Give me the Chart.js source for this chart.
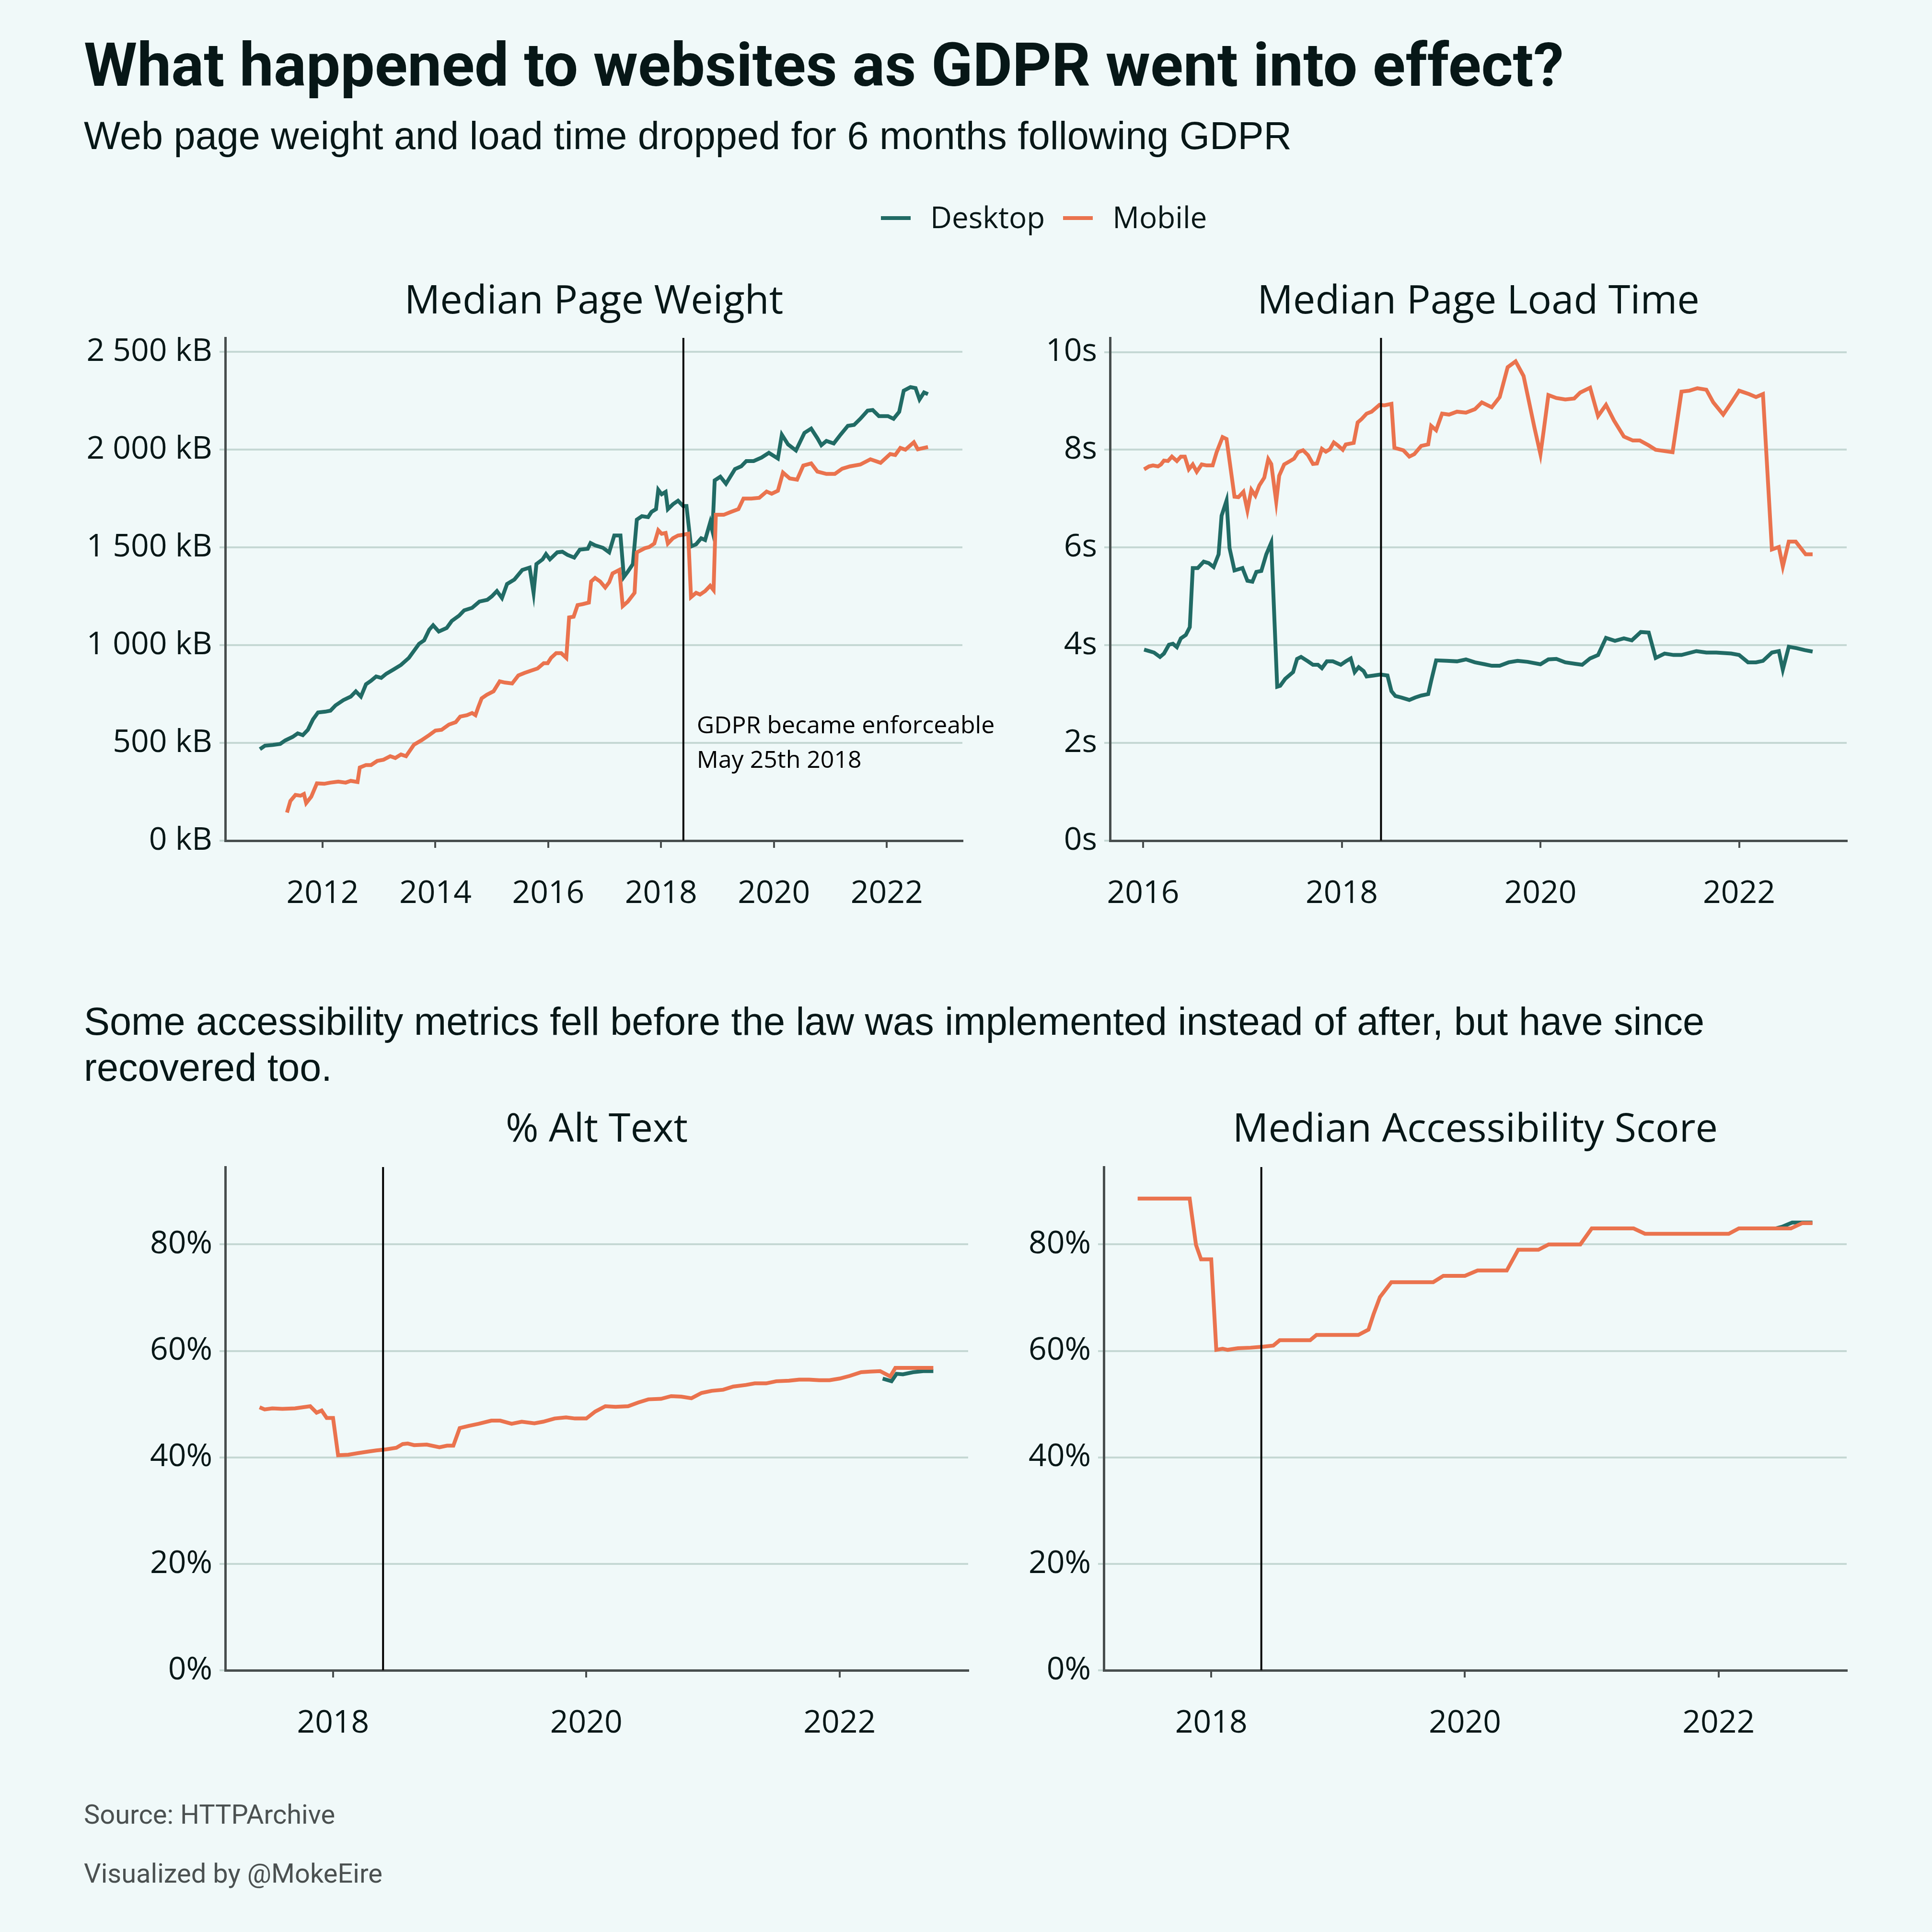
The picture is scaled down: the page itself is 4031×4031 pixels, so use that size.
<!DOCTYPE html>
<html>
<head>
<meta charset="utf-8">
<title>GDPR and websites</title>
<script src="https://cdn.jsdelivr.net/npm/chart.js@4.4.0/dist/chart.umd.min.js"></script>
<style>
  html, body { margin: 0; padding: 0; background: #f0f9f9; }
  #page { position: relative; width: 4031px; height: 4031px; background: #f0f9f9; overflow: hidden; }
  .txt { position: absolute; white-space: nowrap; color: #071717; line-height: 1; }
  .title { font-family: Roboto, sans-serif; font-weight: 700; font-size: 127px; }
  .sub { font-family: "Liberation Sans", Arial, sans-serif; font-size: 81px; }
  .panel { font-family: "Open Sans", sans-serif; font-size: 83px; text-align: center; }
  .legend { font-family: "Open Sans", sans-serif; font-size: 62px; }
  .sw { display: inline-block; width: 62px; height: 8px; vertical-align: middle; margin-right: 41px; position: relative; top: -4px; }
  .foot { font-family: Roboto, sans-serif; font-size: 56px; color: #4b5151; }
  .box { position: absolute; }
</style>
</head>
<body>
<div id="page">
  <div class="txt title" style="left:175px; top:72px;">What happened to websites as GDPR went into effect?</div>
  <div class="txt sub" style="left:175px; top:243px;">Web page weight and load time dropped for 6 months following GDPR</div>
  <div class="txt legend" style="left:1838px; top:421px;"><span class="sw" style="background:#216b65"></span>Desktop<span class="sw" style="background:#ea734e; margin-left:38px"></span>Mobile</div>

  <div class="txt panel" id="t1">Median Page Weight</div>
  <div class="txt panel" id="t2">Median Page Load Time</div>
  <div class="txt sub" style="left:175px; top:2083px; line-height:96px;">Some accessibility metrics fell before the law was implemented instead of after, but have since<br>recovered too.</div>
  <div class="txt panel" id="t3">% Alt Text</div>
  <div class="txt panel" id="t4">Median Accessibility Score</div>

  <div class="txt foot" style="left:175px; top:3758px;">Source: HTTPArchive</div>
  <div class="txt foot" style="left:175px; top:3881px;">Visualized by @MokeEire</div>

  <div class="box" id="b1"><canvas id="c1"></canvas></div>
  <div class="box" id="b2"><canvas id="c2"></canvas></div>
  <div class="box" id="b3"><canvas id="c3"></canvas></div>
  <div class="box" id="b4"><canvas id="c4"></canvas></div>
</div>

<script>
// ---- data (decimal years) ----
const weightDesktopYears = [2010.89,2010.98,2011.12,2011.25,2011.34,2011.47,2011.56,2011.65,2011.74,2011.83,
  2011.92,2012.05,2012.14,2012.23,2012.37,2012.50,2012.59,2012.68,2012.77,2012.86,
  2012.95,2013.04,2013.13,2013.26,2013.39,2013.53,2013.62,2013.71,2013.80,2013.89,
  2013.96,2014.06,2014.20,2014.29,2014.42,2014.51,2014.65,2014.78,2014.92,2015.00,
  2015.09,2015.18,2015.27,2015.40,2015.54,2015.67,2015.74,2015.79,2015.90,2015.96,
  2016.03,2016.16,2016.25,2016.34,2016.46,2016.56,2016.70,2016.75,2016.83,2016.97,
  2017.08,2017.17,2017.28,2017.34,2017.41,2017.50,2017.57,2017.66,2017.77,2017.83,
  2017.91,2017.95,2018.01,2018.08,2018.12,2018.21,2018.30,2018.39,2018.45,2018.53,
  2018.62,2018.71,2018.78,2018.87,2018.91,2018.95,2019.05,2019.15,2019.31,2019.42,
  2019.51,2019.64,2019.78,2019.91,2020.07,2020.14,2020.25,2020.39,2020.54,2020.66,
  2020.77,2020.84,2020.93,2021.06,2021.18,2021.31,2021.42,2021.53,2021.66,2021.75,
  2021.86,2022.02,2022.12,2022.22,2022.30,2022.42,2022.51,2022.58,2022.66,2022.73];
const weightDesktopKb = [468,486,490,495,513,531,549,540,567,620,
  656,660,665,692,719,737,764,737,800,818,
  840,833,854,876,899,935,971,1007,1025,1079,
  1102,1070,1088,1124,1151,1178,1191,1223,1232,1250,
  1277,1241,1313,1336,1385,1397,1268,1415,1439,1466,
  1439,1475,1478,1462,1448,1489,1493,1523,1511,1498,
  1475,1561,1561,1349,1376,1415,1642,1660,1655,1682,
  1696,1795,1772,1784,1696,1721,1739,1712,1712,1505,
  1516,1547,1538,1628,1583,1843,1862,1826,1901,1915,
  1942,1942,1960,1984,1955,2077,2027,1996,2086,2108,
  2059,2023,2045,2032,2077,2122,2127,2158,2200,2203,
  2172,2172,2158,2194,2302,2320,2315,2257,2293,2284];

const weightMobileYears = [2011.37,2011.43,2011.52,2011.61,2011.67,2011.71,2011.80,2011.90,2012.03,2012.14,
  2012.28,2012.41,2012.50,2012.62,2012.66,2012.77,2012.86,2012.97,2013.08,2013.20,
  2013.29,2013.39,2013.48,2013.62,2013.75,2013.89,2014.00,2014.11,2014.24,2014.36,
  2014.44,2014.56,2014.65,2014.71,2014.76,2014.82,2014.91,2015.03,2015.14,2015.23,
  2015.36,2015.47,2015.58,2015.69,2015.81,2015.92,2015.99,2016.05,2016.14,2016.23,
  2016.32,2016.37,2016.45,2016.52,2016.61,2016.72,2016.76,2016.83,2016.92,2017.01,
  2017.08,2017.14,2017.26,2017.32,2017.41,2017.53,2017.57,2017.71,2017.79,2017.88,
  2017.95,2018.01,2018.08,2018.12,2018.21,2018.30,2018.39,2018.48,2018.53,2018.62,
  2018.69,2018.78,2018.87,2018.93,2018.97,2019.11,2019.24,2019.37,2019.46,2019.60,
  2019.74,2019.87,2019.96,2020.07,2020.16,2020.28,2020.41,2020.52,2020.66,2020.77,
  2020.93,2021.08,2021.21,2021.35,2021.53,2021.71,2021.89,2022.06,2022.15,2022.24,
  2022.33,2022.48,2022.55,2022.73];
const weightMobileKb = [144,203,234,230,239,192,225,293,291,297,
  302,297,306,300,374,387,387,408,414,432,
  423,441,432,491,513,540,563,567,594,606,
  635,642,653,642,683,728,746,764,815,809,
  804,845,858,869,881,908,908,935,959,959,
  935,1142,1146,1205,1210,1218,1326,1344,1326,1295,
  1322,1367,1385,1200,1223,1268,1475,1496,1502,1520,
  1588,1570,1574,1520,1547,1561,1565,1570,1246,1268,
  1259,1277,1304,1282,1667,1667,1682,1696,1750,1750,
  1754,1786,1775,1790,1883,1853,1847,1919,1930,1888,
  1876,1876,1903,1915,1924,1951,1933,1978,1973,2009,
  2000,2038,2002,2014];

const loadDesktopYears = [2016.01,2016.06,2016.11,2016.17,2016.21,2016.26,2016.30,2016.34,2016.38,2016.43,
  2016.47,2016.50,2016.55,2016.61,2016.66,2016.71,2016.76,2016.79,2016.84,2016.87,
  2016.92,2017.00,2017.05,2017.10,2017.14,2017.19,2017.24,2017.29,2017.35,2017.38,
  2017.43,2017.51,2017.55,2017.59,2017.66,2017.71,2017.76,2017.80,2017.85,2017.91,
  2017.99,2018.04,2018.09,2018.13,2018.17,2018.22,2018.25,2018.32,2018.39,2018.46,
  2018.50,2018.54,2018.60,2018.68,2018.74,2018.80,2018.87,2018.90,2018.95,2019.06,
  2019.16,2019.25,2019.34,2019.44,2019.51,2019.59,2019.68,2019.77,2019.87,2020.00,
  2020.08,2020.16,2020.25,2020.35,2020.42,2020.50,2020.58,2020.66,2020.75,2020.84,
  2020.92,2021.01,2021.09,2021.16,2021.25,2021.34,2021.42,2021.57,2021.67,2021.77,
  2021.92,2022.00,2022.09,2022.17,2022.24,2022.33,2022.40,2022.44,2022.50,2022.58,
  2022.66,2022.74];
const loadDesktopSec = [3.91,3.88,3.85,3.76,3.83,4.01,4.03,3.96,4.14,4.21,
  4.37,5.58,5.58,5.71,5.68,5.60,5.86,6.65,6.96,5.99,
  5.53,5.58,5.32,5.30,5.50,5.52,5.86,6.10,3.15,3.17,
  3.31,3.45,3.72,3.76,3.67,3.60,3.60,3.53,3.67,3.67,
  3.60,3.67,3.73,3.45,3.55,3.47,3.36,3.38,3.40,3.38,
  3.06,2.96,2.93,2.88,2.93,2.97,3.00,3.27,3.69,3.68,
  3.67,3.71,3.65,3.61,3.58,3.58,3.65,3.68,3.66,3.61,
  3.71,3.72,3.65,3.62,3.60,3.73,3.80,4.15,4.09,4.14,
  4.10,4.27,4.26,3.74,3.83,3.80,3.80,3.88,3.85,3.85,
  3.83,3.80,3.65,3.65,3.68,3.85,3.88,3.50,3.97,3.94,
  3.90,3.87];

const loadMobileYears = [2016.01,2016.06,2016.10,2016.15,2016.18,2016.21,2016.25,2016.29,2016.34,2016.38,
  2016.42,2016.46,2016.50,2016.54,2016.59,2016.64,2016.70,2016.74,2016.80,2016.84,
  2016.92,2016.96,2017.01,2017.05,2017.09,2017.13,2017.17,2017.22,2017.26,2017.29,
  2017.34,2017.37,2017.42,2017.48,2017.52,2017.56,2017.61,2017.66,2017.71,2017.75,
  2017.80,2017.84,2017.88,2017.92,2017.96,2018.01,2018.04,2018.12,2018.16,2018.20,
  2018.25,2018.30,2018.38,2018.43,2018.50,2018.53,2018.62,2018.68,2018.73,2018.80,
  2018.87,2018.90,2018.95,2019.01,2019.08,2019.16,2019.25,2019.34,2019.41,2019.51,
  2019.59,2019.67,2019.75,2019.83,2019.88,2019.94,2020.00,2020.03,2020.08,2020.16,
  2020.25,2020.34,2020.40,2020.50,2020.58,2020.66,2020.74,2020.84,2020.93,2021.00,
  2021.09,2021.16,2021.33,2021.42,2021.50,2021.58,2021.67,2021.74,2021.84,2021.92,
  2022.00,2022.10,2022.17,2022.24,2022.33,2022.40,2022.44,2022.50,2022.57,2022.67,
  2022.74];
const loadMobileSec = [7.60,7.66,7.68,7.66,7.70,7.78,7.77,7.86,7.77,7.86,
  7.86,7.60,7.70,7.55,7.70,7.68,7.68,7.95,8.26,8.22,
  7.04,7.03,7.14,6.76,7.18,7.06,7.27,7.43,7.81,7.71,
  6.94,7.47,7.70,7.77,7.82,7.95,7.99,7.89,7.71,7.72,
  8.02,7.96,8.01,8.15,8.09,8.00,8.11,8.14,8.56,8.63,
  8.74,8.78,8.92,8.91,8.94,8.04,7.99,7.86,7.91,8.08,
  8.11,8.49,8.40,8.74,8.72,8.78,8.76,8.83,8.97,8.87,
  9.08,9.69,9.81,9.51,9.03,8.45,7.91,8.35,9.12,9.06,
  9.03,9.05,9.17,9.27,8.69,8.92,8.60,8.27,8.19,8.19,
  8.09,8.00,7.95,9.19,9.21,9.26,9.23,8.97,8.72,8.96,
  9.21,9.14,9.08,9.14,5.96,6.01,5.61,6.12,6.12,5.86,
  5.86];

const altDesktopYears = [2022.34,2022.41,2022.45,2022.50,2022.58,2022.66,2022.74];
const altDesktopPct = [54.8,54.3,55.7,55.6,56.0,56.2,56.2];
const altMobileYears = [2017.42,2017.46,2017.52,2017.60,2017.70,2017.76,2017.82,2017.87,2017.91,2017.95,
  2018.00,2018.04,2018.12,2018.20,2018.28,2018.34,2018.42,2018.50,2018.55,2018.59,
  2018.64,2018.74,2018.84,2018.90,2018.95,2019.00,2019.07,2019.15,2019.25,2019.32,
  2019.41,2019.49,2019.59,2019.66,2019.75,2019.84,2019.91,2020.00,2020.07,2020.15,
  2020.23,2020.33,2020.41,2020.49,2020.59,2020.67,2020.75,2020.83,2020.91,2020.99,
  2021.08,2021.16,2021.26,2021.33,2021.42,2021.50,2021.60,2021.68,2021.76,2021.84,
  2021.92,2022.00,2022.08,2022.17,2022.24,2022.32,2022.40,2022.44,2022.54,2022.64,
  2022.74];
const altMobilePct = [49.4,49.0,49.2,49.1,49.2,49.4,49.6,48.4,48.8,47.4,
  47.4,40.4,40.5,40.8,41.1,41.3,41.5,41.8,42.5,42.6,
  42.3,42.4,41.9,42.2,42.2,45.5,45.9,46.3,46.9,46.9,
  46.3,46.7,46.4,46.7,47.3,47.5,47.3,47.3,48.6,49.6,
  49.5,49.6,50.3,50.9,51.0,51.5,51.4,51.1,52.1,52.5,
  52.7,53.3,53.6,53.9,53.9,54.3,54.4,54.6,54.6,54.5,
  54.5,54.8,55.3,56.0,56.1,56.2,55.2,56.8,56.8,56.8,
  56.8];

const a11yDesktopYears = [2022.45,2022.50,2022.58,2022.74];
const a11yDesktopPct = [83.0,83.3,84.1,84.1];
const a11yMobileYears = [2017.42,2017.83,2017.84,2017.88,2017.92,2018.00,2018.04,2018.09,2018.13,2018.21,
  2018.31,2018.41,2018.49,2018.54,2018.78,2018.83,2019.16,2019.24,2019.28,2019.33,
  2019.42,2019.75,2019.83,2020.00,2020.10,2020.33,2020.42,2020.58,2020.66,2020.91,
  2021.00,2021.33,2021.42,2022.08,2022.16,2022.57,2022.66,2022.74];
const a11yMobilePct = [88.6,88.6,86.8,79.9,77.2,77.2,60.2,60.4,60.2,60.5,
  60.6,60.8,61.0,62.0,62.0,63.0,63.0,64.0,66.9,70.1,
  72.9,72.9,74.1,74.1,75.1,75.1,79.0,79.0,80.0,80.0,
  83.0,83.0,82.0,82.0,83.0,83.0,84.0,84.0];

// tick values
const weightYearTicks = [2012, 2014, 2016, 2018, 2020, 2022];
const loadYearTicks = [2016, 2018, 2020, 2022];
const a11yYearTicks = [2018, 2020, 2022];
const weightTicks = [0, 500, 1000, 1500, 2000, 2500];
const loadTicks = [0, 2, 4, 6, 8, 10];
const pctTicks = [0, 20, 40, 60, 80];

const gdprDate = 2018.395; // May 25th 2018

// ---- styling ----
const desktopColor = '#216b65';
const mobileColor = '#ea734e';
const gridColor = '#c5d8d4';
const axisColor = '#484e4e';
const textColor = '#071717';
const YW = 400, XH = 200, PT = 60, PR = 160;

// plot areas on the page
const boxes = {
  1: { left: 470, top: 705, right: 2008, bottom: 1754, titleTop: 580 },
  2: { left: 2316, top: 705, right: 3853, bottom: 1754, titleTop: 580 },
  3: { left: 470, top: 2435, right: 2020, bottom: 3485, titleTop: 2308 },
  4: { left: 2303, top: 2435, right: 3853, bottom: 3485, titleTop: 2308 }
};

Object.keys(boxes).forEach(k => {
  const b = boxes[k];
  const el = document.getElementById('b' + k);
  el.style.left = (b.left - YW) + 'px';
  el.style.top = (b.top - PT) + 'px';
  el.style.width = (b.right - b.left + YW + PR) + 'px';
  el.style.height = (b.bottom - b.top + PT + XH) + 'px';
  const t = document.getElementById('t' + k);
  t.style.left = b.left + 'px';
  t.style.width = (b.right - b.left) + 'px';
  t.style.top = b.titleTop + 'px';
});

const gdprPlugin = {
  id: 'gdpr',
  afterDatasetsDraw(chart, args, opts) {
    const { ctx, chartArea, scales } = chart;
    const x = scales.x.getPixelForValue(opts.date);
    ctx.save();
    ctx.strokeStyle = '#000';
    ctx.lineWidth = 4;
    ctx.beginPath();
    ctx.moveTo(x, chartArea.top);
    ctx.lineTo(x, chartArea.bottom);
    ctx.stroke();
    if (opts.label) {
      const lines = opts.label.split('\n');
      const y = scales.y.getPixelForValue(opts.labelValue);
      ctx.font = '50px "Open Sans"';
      ctx.fillStyle = '#000';
      ctx.textAlign = 'left';
      ctx.textBaseline = 'middle';
      lines.forEach((s, i) => ctx.fillText(s, x + 28, y + (i - (lines.length - 1) / 2) * 72));
    }
    ctx.restore();
  }
};

function series(label, years, vals, color, order) {
  return {
    label: label,
    data: years.map((x, i) => ({ x: x, y: vals[i] })),
    borderColor: color,
    backgroundColor: color,
    borderWidth: 8,
    pointRadius: 0,
    tension: 0,
    fill: false,
    order: order
  };
}

const tickFont = { family: 'Open Sans', size: 66 };

function scalesFor(xMin, xMax, xTicks, yMax, yTicks, yFmt) {
  return {
    x: {
      type: 'linear',
      min: xMin,
      max: xMax,
      afterBuildTicks: s => { s.ticks = xTicks.map(v => ({ value: v })); },
      afterFit: s => { s.height = XH; },
      grid: { drawOnChartArea: false, drawTicks: true, tickLength: 15, color: axisColor, tickColor: axisColor, lineWidth: 4 },
      border: { display: true, color: axisColor, width: 5 },
      ticks: { font: tickFont, color: textColor, padding: 57, maxRotation: 0, autoSkip: false, callback: v => String(v) }
    },
    y: {
      min: 0,
      max: yMax,
      afterBuildTicks: s => { s.ticks = yTicks.map(v => ({ value: v })); },
      afterFit: s => { s.width = YW; },
      grid: { color: gridColor, lineWidth: 4, drawTicks: true, tickLength: 12, tickColor: gridColor },
      border: { display: true, color: axisColor, width: 5 },
      ticks: { font: tickFont, color: textColor, padding: 15, autoSkip: false, callback: yFmt }
    }
  };
}

function makeChart(id, datasets, scales, gdprOpts) {
  return new Chart(document.getElementById(id), {
    type: 'line',
    data: { datasets: datasets },
    options: {
      responsive: true,
      maintainAspectRatio: false,
      animation: false,
      devicePixelRatio: 1,
      layout: { padding: { top: PT, right: PR, left: 0, bottom: 0 } },
      plugins: { legend: { display: false }, tooltip: { enabled: false }, gdpr: gdprOpts },
      scales: scales
    },
    plugins: [gdprPlugin]
  });
}

const kb = v => String(v).replace(/\B(?=(\d{3})+(?!\d))/g, ' ') + ' kB';
const sec = v => v + 's';
const pct = v => v + '%';

makeChart('c1', [
  series('Desktop', weightDesktopYears, weightDesktopKb, desktopColor, 1),
  series('Mobile', weightMobileYears, weightMobileKb, mobileColor, 0)
], scalesFor(2010.276, 2023.34, weightYearTicks, 2572, weightTicks, kb),
  { date: gdprDate, label: 'GDPR became enforceable\nMay 25th 2018', labelValue: 497 });

makeChart('c2', [
  series('Desktop', loadDesktopYears, loadDesktopSec, desktopColor, 1),
  series('Mobile', loadMobileYears, loadMobileSec, mobileColor, 0)
], scalesFor(2015.667, 2023.083, loadYearTicks, 10.29, loadTicks, sec),
  { date: gdprDate });

makeChart('c3', [
  series('Desktop', altDesktopYears, altDesktopPct, desktopColor, 1),
  series('Mobile', altMobileYears, altMobilePct, mobileColor, 0)
], scalesFor(2017.149, 2023.015, a11yYearTicks, 94.53, pctTicks, pct),
  { date: gdprDate });

makeChart('c4', [
  series('Desktop', a11yDesktopYears, a11yDesktopPct, desktopColor, 1),
  series('Mobile', a11yMobileYears, a11yMobilePct, mobileColor, 0)
], scalesFor(2017.153, 2023.01, a11yYearTicks, 94.53, pctTicks, pct),
  { date: gdprDate });
</script>
</body>
</html>
